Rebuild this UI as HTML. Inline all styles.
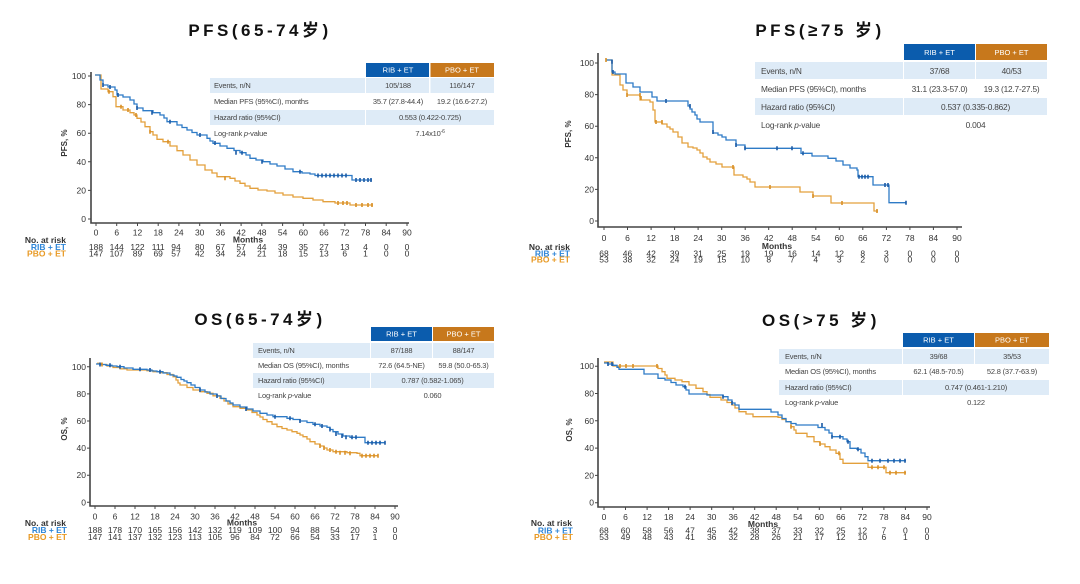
<!DOCTYPE html>
<html><head><meta charset="utf-8"><style>
html,body{margin:0;padding:0;background:#fff;}
svg{display:block;}
text{font-family:"Liberation Sans","Noto Sans CJK SC",sans-serif;}
.t{font-size:17px;font-weight:bold;fill:#111;letter-spacing:3.5px;}
.tk{font-size:8.5px;fill:#333;}
.ar{font-size:8.5px;fill:#333;}
.b{font-weight:bold;}
.tb{font-size:7.5px;fill:#444;letter-spacing:-0.2px;}
.tb2{font-size:8.3px;fill:#444;letter-spacing:-0.2px;}
.hd{font-size:7.5px;fill:#fff;}
.ax{stroke:#444;stroke-width:1.6;fill:none;}
.tc{stroke:#444;stroke-width:1;}
.cb{stroke:#2e7bc6;stroke-width:1.3;fill:none;}
.co{stroke:#e3a03c;stroke-width:1.3;fill:none;}
.mb{stroke:#1b5aa5;stroke-width:1.6;fill:none;}
.mo{stroke:#d98f25;stroke-width:1.6;fill:none;}
.yl{font-size:8px;font-weight:bold;fill:#333;}
</style></head><body>
<svg width="1080" height="584" viewBox="0 0 1080 584" xmlns="http://www.w3.org/2000/svg">
<rect width="1080" height="584" fill="#fff"/>

<!-- ============ PANEL 1 ============ -->
<text class="t" x="260" y="36" text-anchor="middle">PFS(65-74岁)</text>
<rect x="366" y="63" width="63" height="14" fill="#0b5cad"/>
<rect x="430.5" y="63" width="63.5" height="14" fill="#c7781c"/>
<text class="hd" x="398" y="72.7" text-anchor="middle">RIB + ET</text>
<text class="hd" x="462" y="72.7" text-anchor="middle">PBO + ET</text>
<rect x="210" y="78" width="155" height="15" fill="#deebf7"/>
<rect x="366" y="78" width="63" height="15" fill="#deebf7"/>
<rect x="430.5" y="78" width="63.5" height="15" fill="#deebf7"/>
<rect x="210" y="110" width="155" height="15" fill="#deebf7"/>
<rect x="366" y="110" width="128" height="15" fill="#deebf7"/>
<text class="tb" x="214" y="88.2">Events, n/N</text>
<text class="tb" x="398" y="88.2" text-anchor="middle">105/188</text>
<text class="tb" x="462" y="88.2" text-anchor="middle">116/147</text>
<text class="tb" x="214" y="104.2">Median PFS (95%CI), months</text>
<text class="tb" x="398" y="104.2" text-anchor="middle">35.7 (27.8-44.4)</text>
<text class="tb" x="462" y="104.2" text-anchor="middle">19.2 (16.6-27.2)</text>
<text class="tb" x="214" y="120.2">Hazard ratio (95%CI)</text>
<text class="tb" x="430" y="120.2" text-anchor="middle">0.553 (0.422-0.725)</text>
<text class="tb" x="214" y="136.2">Log-rank <tspan font-style="italic">p</tspan>-value</text>
<text class="tb" x="430" y="136.2" text-anchor="middle">7.14x10<tspan font-size="5" dy="-3">-6</tspan></text>
<path class="ax" d="M91,72 V223 H409"/>
<path class="tc" d="M88,219H91M88,190.4H91M88,161.8H91M88,133.2H91M88,104.6H91M88,76H91
M96,223v3M116.7,223v3M137.5,223v3M158.2,223v3M178.9,223v3M199.7,223v3M220.4,223v3M241.1,223v3M261.8,223v3M282.6,223v3M303.3,223v3M324,223v3M344.8,223v3M365.5,223v3M386.2,223v3M407,223v3"/>
<g class="tk" text-anchor="end">
<text x="86" y="222">0</text><text x="86" y="193.4">20</text><text x="86" y="164.8">40</text><text x="86" y="136.2">60</text><text x="86" y="107.6">80</text><text x="86" y="79">100</text>
</g>
<g class="tk" text-anchor="middle">
<text x="96" y="235.5">0</text><text x="116.7" y="235.5">6</text><text x="137.5" y="235.5">12</text><text x="158.2" y="235.5">18</text><text x="178.9" y="235.5">24</text><text x="199.7" y="235.5">30</text><text x="220.4" y="235.5">36</text><text x="241.1" y="235.5">42</text><text x="261.8" y="235.5">48</text><text x="282.6" y="235.5">54</text><text x="303.3" y="235.5">60</text><text x="324" y="235.5">66</text><text x="344.8" y="235.5">72</text><text x="365.5" y="235.5">78</text><text x="386.2" y="235.5">84</text><text x="407" y="235.5">90</text>
</g>
<text class="tk b" x="248" y="242.5" text-anchor="middle">Months</text>
<text class="yl" transform="translate(67,143) rotate(-90)" text-anchor="middle">PFS, %</text>
<text class="tk b" x="66" y="243" text-anchor="end">No. at risk</text>
<text class="tk b" x="66" y="250" text-anchor="end" style="fill:#2f86d8">RIB + ET</text>
<text class="tk b" x="66" y="256.5" text-anchor="end" style="fill:#e89a25">PBO + ET</text>
<g class="ar" text-anchor="middle">
<text x="96" y="250">188</text><text x="116.7" y="250">144</text><text x="137.5" y="250">122</text><text x="158.2" y="250">111</text><text x="176" y="250">94</text><text x="199.7" y="250">80</text><text x="220.4" y="250">67</text><text x="241.1" y="250">57</text><text x="261.8" y="250">44</text><text x="282.6" y="250">39</text><text x="303.3" y="250">35</text><text x="324" y="250">27</text><text x="344.8" y="250">13</text><text x="365.5" y="250">4</text><text x="386.2" y="250">0</text><text x="407" y="250">0</text>
<text x="96" y="256.5">147</text><text x="116.7" y="256.5">107</text><text x="137.5" y="256.5">89</text><text x="158.2" y="256.5">69</text><text x="176" y="256.5">57</text><text x="199.7" y="256.5">42</text><text x="220.4" y="256.5">34</text><text x="241.1" y="256.5">24</text><text x="261.8" y="256.5">21</text><text x="282.6" y="256.5">18</text><text x="303.3" y="256.5">15</text><text x="324" y="256.5">13</text><text x="344.8" y="256.5">6</text><text x="365.5" y="256.5">1</text><text x="386.2" y="256.5">0</text><text x="407" y="256.5">0</text>
</g>
<path class="co" d="M95,75 H101 V89 H108 V91.7 H113 V96.7 H116 V106.7 H123 V110 H130 V112.7 H134 V115 H137 V118.3 H141 V122 H145 V126.7 H150 V131.7 H153 V135 H157 V139.3 H163 V141.7 H170 V146 H177 V150.7 H183 V155 H190 V160 H197 V165 H205 V170 H212 V173 H217 V176.7 H230 V178.3 H235 V181 H240 V183.3 H245 V186 H250 V188.3 H258 V190 H267 V191 H275 V193 H283 V195 H293 V197 H303 V198.3 H313 V200 H323 V201.7 H335 V203 H350 V205 H373"/>
<path class="cb" d="M95,75 H100 V80 H103 V85 H108 V87 H115 V90 H117 V95 H123 V97 H130 V100 H134 V104 H137 V108 H143 V110.7 H153 V112.7 H160 V115 H164 V118 H167 V121.7 H177 V125 H182 V127.5 H187 V130 H192 V132.5 H197 V135 H207 V138.3 H210 V141 H213 V143.3 H220 V146 H227 V148.3 H234 V150.5 H240 V152.7 H246 V155 H250 V158.3 H256 V160 H263 V161.7 H270 V164 H277 V166 H285 V169 H293 V171.7 H302 V173 H310 V174 H315 V175.5 H352 V180 H372"/>
<path class="mo" d="M109,89.7v4M121,104.7v4M128,108v4M136,113v4M150,129.7v4M168,139.7v4M225,176.3v4M338,201v4M343,201v4M347,201v4M356,203v4M362,203v4M368,203v4M372,203v4"/>
<path class="mb" d="M103,83v4M110,85v4M118,93v4M137,106v4M152,110.7v4M170,119.7v4M200,133v4M215,141v4M236,150.7v4M242,150.7v4M262,159.7v4M300,169.7v4M318,173.5v4M322,173.5v4M326,173.5v4M330,173.5v4M334,173.5v4M338,173.5v4M342,173.5v4M346,173.5v4M356,178v4M360,178v4M364,178v4M368,178v4M371,178v4"/>

<!-- ============ PANEL 2 ============ -->
<text class="t" x="820" y="36" text-anchor="middle">PFS(≥75 岁)</text>
<rect x="904" y="44" width="71" height="16" fill="#0b5cad"/>
<rect x="976" y="44" width="71" height="16" fill="#c7781c"/>
<text class="hd" x="939.5" y="55" text-anchor="middle">RIB + ET</text>
<text class="hd" x="1011.5" y="55" text-anchor="middle">PBO + ET</text>
<rect x="755" y="62" width="148" height="17" fill="#deebf7"/>
<rect x="904" y="62" width="71" height="17" fill="#deebf7"/>
<rect x="976" y="62" width="71" height="17" fill="#deebf7"/>
<rect x="755" y="98" width="148" height="17" fill="#deebf7"/>
<rect x="904" y="98" width="143" height="17" fill="#deebf7"/>
<text class="tb2" x="761" y="73.8">Events, n/N</text>
<text class="tb2" x="939.5" y="73.8" text-anchor="middle">37/68</text>
<text class="tb2" x="1011.5" y="73.8" text-anchor="middle">40/53</text>
<text class="tb2" x="761" y="91.8">Median PFS (95%CI), months</text>
<text class="tb2" x="939.5" y="91.8" text-anchor="middle">31.1 (23.3-57.0)</text>
<text class="tb2" x="1011.5" y="91.8" text-anchor="middle">19.3 (12.7-27.5)</text>
<text class="tb2" x="761" y="109.8">Hazard ratio (95%CI)</text>
<text class="tb2" x="975.5" y="109.8" text-anchor="middle">0.537 (0.335-0.862)</text>
<text class="tb2" x="761" y="127.8">Log-rank <tspan font-style="italic">p</tspan>-value</text>
<text class="tb2" x="975.5" y="127.8" text-anchor="middle">0.004</text>
<path class="ax" d="M598,53 V227 H962"/>
<path class="tc" d="M595,221H598M595,189.4H598M595,157.8H598M595,126.2H598M595,94.6H598M595,63H598
M604,227v3M627.5,227v3M651.1,227v3M674.6,227v3M698.1,227v3M721.7,227v3M745.2,227v3M768.7,227v3M792.2,227v3M815.8,227v3M839.3,227v3M862.8,227v3M886.4,227v3M909.9,227v3M933.4,227v3M957,227v3"/>
<g class="tk" text-anchor="end">
<text x="594" y="224">0</text><text x="594" y="192.4">20</text><text x="594" y="160.8">40</text><text x="594" y="129.2">60</text><text x="594" y="97.6">80</text><text x="594" y="66">100</text>
</g>
<g class="tk" text-anchor="middle">
<text x="604" y="241">0</text><text x="627.5" y="241">6</text><text x="651.1" y="241">12</text><text x="674.6" y="241">18</text><text x="698.1" y="241">24</text><text x="721.7" y="241">30</text><text x="745.2" y="241">36</text><text x="768.7" y="241">42</text><text x="792.2" y="241">48</text><text x="815.8" y="241">54</text><text x="839.3" y="241">60</text><text x="862.8" y="241">66</text><text x="886.4" y="241">72</text><text x="909.9" y="241">78</text><text x="933.4" y="241">84</text><text x="957" y="241">90</text>
</g>
<text class="tk b" x="777" y="249" text-anchor="middle">Months</text>
<text class="yl" transform="translate(571,134) rotate(-90)" text-anchor="middle">PFS, %</text>
<text class="tk b" x="570" y="250" text-anchor="end">No. at risk</text>
<text class="tk b" x="570" y="256.5" text-anchor="end" style="fill:#2f86d8">RIB + ET</text>
<text class="tk b" x="570" y="262.5" text-anchor="end" style="fill:#e89a25">PBO + ET</text>
<g class="ar" text-anchor="middle">
<text x="604" y="256.5">68</text><text x="627.5" y="256.5">46</text><text x="651.1" y="256.5">42</text><text x="674.6" y="256.5">39</text><text x="698.1" y="256.5">31</text><text x="721.7" y="256.5">25</text><text x="745.2" y="256.5">19</text><text x="768.7" y="256.5">19</text><text x="792.2" y="256.5">16</text><text x="815.8" y="256.5">14</text><text x="839.3" y="256.5">12</text><text x="862.8" y="256.5">8</text><text x="886.4" y="256.5">3</text><text x="909.9" y="256.5">0</text><text x="933.4" y="256.5">0</text><text x="957" y="256.5">0</text>
<text x="604" y="262.5">53</text><text x="627.5" y="262.5">38</text><text x="651.1" y="262.5">32</text><text x="674.6" y="262.5">24</text><text x="698.1" y="262.5">19</text><text x="721.7" y="262.5">15</text><text x="745.2" y="262.5">10</text><text x="768.7" y="262.5">8</text><text x="792.2" y="262.5">7</text><text x="815.8" y="262.5">4</text><text x="839.3" y="262.5">3</text><text x="862.8" y="262.5">2</text><text x="886.4" y="262.5">0</text><text x="909.9" y="262.5">0</text><text x="933.4" y="262.5">0</text><text x="957" y="262.5">0</text>
</g>
<path class="co" d="M606,60 H612 V75 H620 V85 H623 V90 H627 V95 H640 V100 H650 V102 H653 V110 H655 V122 H662 V124 H667 V127 H670 V129 H673 V132 H678 V137 H682 V143 H688 V147 H693 V148 H697 V150 H700 V153 H703 V157 H707 V159 H710 V162 H716 V164 H722 V167 H734 V175 H743 V177 H747 V179 H750 V182 H755 V187 H800 V192 H813 V196 H831 V203 H874 V211 H878"/>
<path class="cb" d="M606,60 H612 V72 H615 V74 H626 V83 H633 V87 H640 V92 H652 V97 H657 V101 H688 V106 H690 V109 H692 V112 H695 V115 H697 V119 H700 V122 H713 V133 H718 V135 H722 V137 H726 V140 H736 V145 H745 V148.3 H801 V153.3 H812 V156 H828 V158.3 H836 V161 H843 V165 H850 V168 H857 V170 H858 V176.7 H873 V185 H889 V202.7 H906"/>
<path class="mo" d="M606,58v4M627,93v4M640,93v4M641,96v4M656,120v4M662,120v4M733,165v4M770,185v4M813,194v4M842,201v4M877,209v4"/>
<path class="mb" d="M612,59.7v4M613,70v4M666,99v4M690,104v4M713,130v4M736,143v4M745,146.3v4M777,146.3v4M792,146.3v4M803,151.3v4M859,174.7v4M862,174.7v4M865,174.7v4M868,174.7v4M885,183v4M888,183v4M906,200.7v4"/>

<!-- ============ PANEL 3 ============ -->
<text class="t" x="260" y="325" text-anchor="middle">OS(65-74岁)</text>
<rect x="371" y="327" width="61" height="14" fill="#0b5cad"/>
<rect x="433" y="327" width="61" height="14" fill="#c7781c"/>
<text class="hd" x="401.5" y="336.7" text-anchor="middle">RIB + ET</text>
<text class="hd" x="463.5" y="336.7" text-anchor="middle">PBO + ET</text>
<rect x="253" y="343" width="117" height="15" fill="#deebf7"/>
<rect x="371" y="343" width="61" height="15" fill="#deebf7"/>
<rect x="433" y="343" width="61" height="15" fill="#deebf7"/>
<rect x="253" y="373" width="117" height="15" fill="#deebf7"/>
<rect x="371" y="373" width="123" height="15" fill="#deebf7"/>
<text class="tb" x="258" y="353.2">Events, n/N</text>
<text class="tb" x="401.5" y="353.2" text-anchor="middle">87/188</text>
<text class="tb" x="463.5" y="353.2" text-anchor="middle">88/147</text>
<text class="tb" x="258" y="368.2">Median OS (95%CI), months</text>
<text class="tb" x="401.5" y="368.2" text-anchor="middle">72.6 (64.5-NE)</text>
<text class="tb" x="463.5" y="368.2" text-anchor="middle">59.8 (50.0-65.3)</text>
<text class="tb" x="258" y="383.2">Hazard ratio (95%CI)</text>
<text class="tb" x="432.5" y="383.2" text-anchor="middle">0.787 (0.582-1.065)</text>
<text class="tb" x="258" y="398.2">Log-rank <tspan font-style="italic">p</tspan>-value</text>
<text class="tb" x="432.5" y="398.2" text-anchor="middle">0.060</text>
<path class="ax" d="M90,358 V506 H398"/>
<path class="tc" d="M87,502.3H90M87,475.2H90M87,448.1H90M87,421H90M87,393.9H90M87,366.8H90
M95,506v3M115,506v3M135,506v3M155,506v3M175,506v3M195,506v3M215,506v3M235,506v3M255,506v3M275,506v3M295,506v3M315,506v3M335,506v3M355,506v3M375,506v3M395,506v3"/>
<g class="tk" text-anchor="end">
<text x="86" y="505.3">0</text><text x="86" y="478.2">20</text><text x="86" y="451.1">40</text><text x="86" y="424">60</text><text x="86" y="396.9">80</text><text x="86" y="369.8">100</text>
</g>
<g class="tk" text-anchor="middle">
<text x="95" y="519.5">0</text><text x="115" y="519.5">6</text><text x="135" y="519.5">12</text><text x="155" y="519.5">18</text><text x="175" y="519.5">24</text><text x="195" y="519.5">30</text><text x="215" y="519.5">36</text><text x="235" y="519.5">42</text><text x="255" y="519.5">48</text><text x="275" y="519.5">54</text><text x="295" y="519.5">60</text><text x="315" y="519.5">66</text><text x="335" y="519.5">72</text><text x="355" y="519.5">78</text><text x="375" y="519.5">84</text><text x="395" y="519.5">90</text>
</g>
<text class="tk b" x="242" y="525.5" text-anchor="middle">Months</text>
<text class="yl" transform="translate(67,429) rotate(-90)" text-anchor="middle">OS, %</text>
<text class="tk b" x="66" y="526" text-anchor="end">No. at risk</text>
<text class="tk b" x="67" y="533" text-anchor="end" style="fill:#2f86d8">RIB + ET</text>
<text class="tk b" x="67" y="540" text-anchor="end" style="fill:#e89a25">PBO + ET</text>
<g class="ar" text-anchor="middle">
<text x="95" y="533">188</text><text x="115" y="533">178</text><text x="135" y="533">170</text><text x="155" y="533">165</text><text x="175" y="533">156</text><text x="195" y="533">142</text><text x="215" y="533">132</text><text x="235" y="533">119</text><text x="255" y="533">109</text><text x="275" y="533">100</text><text x="295" y="533">94</text><text x="315" y="533">88</text><text x="335" y="533">54</text><text x="355" y="533">20</text><text x="375" y="533">3</text><text x="395" y="533">0</text>
<text x="95" y="540">147</text><text x="115" y="540">141</text><text x="135" y="540">137</text><text x="155" y="540">132</text><text x="175" y="540">123</text><text x="195" y="540">113</text><text x="215" y="540">105</text><text x="235" y="540">96</text><text x="255" y="540">84</text><text x="275" y="540">72</text><text x="295" y="540">66</text><text x="315" y="540">54</text><text x="335" y="540">33</text><text x="355" y="540">17</text><text x="375" y="540">1</text><text x="395" y="540">0</text>
</g>
<path class="co" d="M97,363.3 H101 V364.5 H107 V366 H113 V367.5 H120 V368.8 H127 V370 H147 V370.7 H153 V371.7 H160 V372.7 H167 V374.5 H173 V376.7 H176 V380 H178 V383 H180 V385 H187 V387.5 H193 V390 H200 V391.7 H207 V393.3 H213 V395.8 H220 V398.3 H224 V401 H228 V404 H233 V406.7 H240 V408.3 H247 V410 H252 V412.5 H257 V415 H260 V417 H263 V419.5 H267 V421.7 H272 V424.2 H277 V426.7 H282 V428.5 H287 V430 H292 V431.7 H297 V433.3 H300 V435 H303 V436.7 H307 V439 H310 V441.7 H315 V444 H320 V446 H324 V448 H327 V450 H333 V451.7 H347 V452.7 H357 V453.3 H360 V455.7 H378"/>
<path class="cb" d="M96,364 H100 V364.5 H106 V365.3 H112 V366 H117 V366.7 H124 V368 H133 V369.3 H147 V370 H152 V371 H157 V371.7 H163 V373 H170 V375 H174 V376 H177 V377.3 H181 V379.5 H184 V381 H187 V382.7 H191 V385 H195 V387.5 H200 V390 H205 V392 H210 V394 H217 V396 H221 V398.5 H226 V401 H230 V403 H233 V405 H240 V407 H247 V409 H253 V411 H260 V413.3 H267 V415 H273 V416.7 H287 V418.3 H293 V419.5 H300 V421 H307 V422.5 H313 V424.3 H320 V426 H327 V427.3 H330 V429.5 H333 V431.7 H338 V434 H343 V436 H350 V437.3 H365 V442.7 H385"/>
<path class="mo" d="M102,362.5v4M320,444v4M324,446v4M330,448v4M336,449.7v4M340,450.7v4M345,450.7v4M350,451.3v4M362,453.7v4M366,453.7v4M370,453.7v4M374,453.7v4M378,453.7v4"/>
<path class="mb" d="M100,362.5v4M110,363.3v4M120,364.7v4M140,367.3v4M150,368v4M160,369.7v4M200,388v4M217,394v4M246,407v4M275,414.7v4M290,416.3v4M300,419v4M315,422.3v4M322,424v4M330,427.5v4M336,432v4M342,434v4M346,435.3v4M352,435.3v4M356,435.3v4M368,440.7v4M372,440.7v4M376,440.7v4M380,440.7v4M385,440.7v4"/>

<!-- ============ PANEL 4 ============ -->
<text class="t" x="821" y="326" text-anchor="middle">OS(&gt;75 岁)</text>
<rect x="903" y="333" width="71" height="14" fill="#0b5cad"/>
<rect x="975" y="333" width="74" height="14" fill="#c7781c"/>
<text class="hd" x="938.5" y="342.7" text-anchor="middle">RIB + ET</text>
<text class="hd" x="1012" y="342.7" text-anchor="middle">PBO + ET</text>
<rect x="779" y="349" width="123" height="15" fill="#deebf7"/>
<rect x="903" y="349" width="71" height="15" fill="#deebf7"/>
<rect x="975" y="349" width="74" height="15" fill="#deebf7"/>
<rect x="779" y="380" width="123" height="15" fill="#deebf7"/>
<rect x="903" y="380" width="146" height="15" fill="#deebf7"/>
<text class="tb" x="785" y="359.2">Events, n/N</text>
<text class="tb" x="938.5" y="359.2" text-anchor="middle">39/68</text>
<text class="tb" x="1012" y="359.2" text-anchor="middle">35/53</text>
<text class="tb" x="785" y="374.2">Median OS (95%CI), months</text>
<text class="tb" x="938.5" y="374.2" text-anchor="middle">62.1 (48.5-70.5)</text>
<text class="tb" x="1012" y="374.2" text-anchor="middle">52.8 (37.7-63.9)</text>
<text class="tb" x="785" y="390.2">Hazard ratio (95%CI)</text>
<text class="tb" x="976" y="390.2" text-anchor="middle">0.747 (0.461-1.210)</text>
<text class="tb" x="785" y="405.2">Log-rank <tspan font-style="italic">p</tspan>-value</text>
<text class="tb" x="976" y="405.2" text-anchor="middle">0.122</text>
<path class="ax" d="M598,358 V507 H930"/>
<path class="tc" d="M595,502.7H598M595,475.4H598M595,448.1H598M595,420.8H598M595,393.5H598M595,366.2H598
M604,507v3M625.5,507v3M647.1,507v3M668.6,507v3M690.1,507v3M711.7,507v3M733.2,507v3M754.7,507v3M776.2,507v3M797.8,507v3M819.3,507v3M840.8,507v3M862.4,507v3M883.9,507v3M905.4,507v3M927,507v3"/>
<g class="tk" text-anchor="end">
<text x="594" y="505.7">0</text><text x="594" y="478.4">20</text><text x="594" y="451.1">40</text><text x="594" y="423.8">60</text><text x="594" y="396.5">80</text><text x="594" y="369.2">100</text>
</g>
<g class="tk" text-anchor="middle">
<text x="604" y="520">0</text><text x="625.5" y="520">6</text><text x="647.1" y="520">12</text><text x="668.6" y="520">18</text><text x="690.1" y="520">24</text><text x="711.7" y="520">30</text><text x="733.2" y="520">36</text><text x="754.7" y="520">42</text><text x="776.2" y="520">48</text><text x="797.8" y="520">54</text><text x="819.3" y="520">60</text><text x="840.8" y="520">66</text><text x="862.4" y="520">72</text><text x="883.9" y="520">78</text><text x="905.4" y="520">84</text><text x="927" y="520">90</text>
</g>
<text class="tk b" x="763" y="527" text-anchor="middle">Months</text>
<text class="yl" transform="translate(572,430) rotate(-90)" text-anchor="middle">OS, %</text>
<text class="tk b" x="572" y="526" text-anchor="end">No. at risk</text>
<text class="tk b" x="573" y="533.5" text-anchor="end" style="fill:#2f86d8">RIB + ET</text>
<text class="tk b" x="573" y="540" text-anchor="end" style="fill:#e89a25">PBO + ET</text>
<g class="ar" text-anchor="middle">
<text x="604" y="533.5">68</text><text x="625.5" y="533.5">60</text><text x="647.1" y="533.5">58</text><text x="668.6" y="533.5">56</text><text x="690.1" y="533.5">47</text><text x="711.7" y="533.5">45</text><text x="733.2" y="533.5">42</text><text x="754.7" y="533.5">38</text><text x="776.2" y="533.5">37</text><text x="797.8" y="533.5">33</text><text x="819.3" y="533.5">32</text><text x="840.8" y="533.5">25</text><text x="862.4" y="533.5">12</text><text x="883.9" y="533.5">7</text><text x="905.4" y="533.5">0</text><text x="927" y="533.5">0</text>
<text x="604" y="540">53</text><text x="625.5" y="540">49</text><text x="647.1" y="540">48</text><text x="668.6" y="540">43</text><text x="690.1" y="540">41</text><text x="711.7" y="540">36</text><text x="733.2" y="540">32</text><text x="754.7" y="540">28</text><text x="776.2" y="540">26</text><text x="797.8" y="540">21</text><text x="819.3" y="540">17</text><text x="840.8" y="540">12</text><text x="862.4" y="540">10</text><text x="883.9" y="540">6</text><text x="905.4" y="540">1</text><text x="927" y="540">0</text>
</g>
<path class="co" d="M604,362 H613 V366 H658 V368.5 H662 V371.7 H665 V375 H667 V378.3 H675 V380 H682 V381.7 H689 V385 H696 V388.3 H703 V391.7 H707 V394.5 H710 V397.3 H721 V400 H727 V402.5 H732 V405 H735 V408 H739 V411.7 H746 V414 H753 V416.7 H778 V417.3 H782 V419.5 H786 V421.7 H791 V426.7 H794 V430 H796 V433.3 H807 V436.7 H814 V441.7 H820 V444 H825 V446.7 H830 V450 H836 V453.3 H840 V459.3 H843 V463.3 H868 V467.3 H886 V472.7 H906"/>
<path class="cb" d="M604,363 H608 V364 H613 V365.3 H617 V367.3 H619 V369.3 H644 V374 H658 V378.3 H665 V380 H671 V382.5 H676 V385 H683 V386.7 H686 V390 H689 V394 H707 V395 H723 V396.7 H728 V400 H732 V403 H735 V405 H739 V409.3 H771 V412 H778 V415 H782 V418.5 H786 V421.7 H791 V423.5 H796 V425 H818 V427.5 H825 V430 H829 V433 H832 V436.7 H843 V439 H847 V441.7 H850 V448.3 H857 V449.3 H861 V453 H865 V456.7 H868 V460.7 H906"/>
<path class="mo" d="M620,364v4M626,364v4M633,364v4M657,364v4M791,424.7v4M820,442v4M839,451.3v4M872,465.3v4M878,465.3v4M884,465.3v4M890,470.7v4M896,470.7v4M905,470.7v4"/>
<path class="mb" d="M608,362v4M612,362v4M685,384.7v4M723,394.7v4M732,401v4M822,423v4M832,434.7v4M840,434.7v4M848,439.7v4M858,447.3v4M872,458.7v4M880,458.7v4M888,458.7v4M894,458.7v4M900,458.7v4M905,458.7v4"/>
</svg>
</body></html>
